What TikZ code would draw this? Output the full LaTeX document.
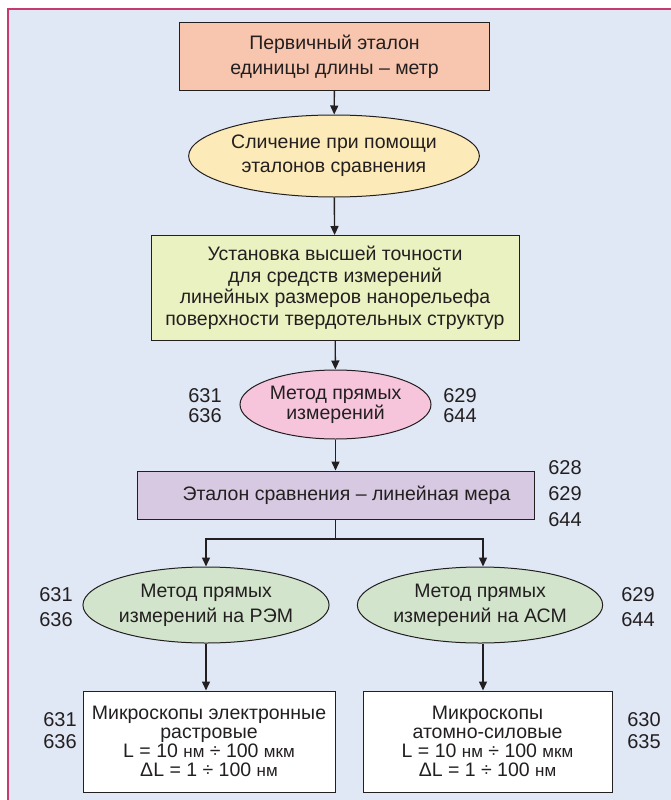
\documentclass[tikz,border=0pt]{standalone}
\usepackage{fontspec}
\setmainfont{Liberation Sans}
\usepackage{xcolor}
\usetikzlibrary{shapes.geometric,arrows.meta}

\definecolor{fonblue}{HTML}{E1E8F5}
\definecolor{ramka}{HTML}{C73A6F}
\definecolor{losos}{HTML}{F8C6AE}
\definecolor{zhelt}{HTML}{FCEBB8}
\definecolor{salat}{HTML}{EBF2C2}
\definecolor{rozov}{HTML}{F6C5DB}
\definecolor{siren}{HTML}{D6C9E1}
\definecolor{zelen}{HTML}{D3E4CC}
\definecolor{tekst}{HTML}{231F20}

\newcommand{\ed}[1]{{\fontsize{17}{19}\selectfont #1}}

\tikzset{
  blok/.style={draw=tekst, line width=1pt, align=center, inner sep=0pt, text=tekst,
    font=\fontsize{19.5}{21.5}\selectfont},
  oval/.style={blok, ellipse},
  nomer/.style={align=center, inner sep=0pt, text=tekst},
  strelka/.style={draw=tekst, line width=1.4pt, -{Triangle[length=9pt,width=8pt]}}
}

\begin{document}
\begin{tikzpicture}[x=1pt,y=-1pt]
\useasboundingbox (0,0) rectangle (671,800);
\fill[fonblue] (8,9) rectangle (671,800);
\draw[ramka, line width=1.3pt] (8,800)--(8,9)--(671,9);

\node[blok, fill=losos, minimum width=310pt, minimum height=67pt, font=\fontsize{19.5}{25}\selectfont] (etalon) at (334.5,56.5)
  {Первичный эталон\\ единицы длины – метр};
\node[oval, fill=zhelt, minimum width=278pt, minimum height=82pt, font=\fontsize{19.5}{24}\selectfont] (slichenie) at (334,156)
  {Сличение при помощи\\ эталонов сравнения};
\node[blok, fill=salat, minimum width=368pt, minimum height=105pt] (ustanovka) at (335,288)
  {Установка высшей точности\\ для средств измерений\\ линейных размеров нанорельефа\\ поверхности твердотельных структур};
\node[oval, fill=rozov, minimum width=191pt, minimum height=69pt, font=\fontsize{19.5}{20}\selectfont] (metod) at (335.5,404.5)
  {Метод прямых\\ измерений};
\node[blok, fill=siren, minimum width=397pt, minimum height=48pt] (mera) at (335.5,495)
  {\hspace*{22pt}Эталон сравнения – линейная мера};
\node[oval, fill=zelen, minimum width=246pt, minimum height=76pt, font=\fontsize{19.5}{25}\selectfont] (rem) at (206,605)
  {Метод прямых\\ измерений на РЭМ};
\node[oval, fill=zelen, minimum width=244pt, minimum height=76pt, font=\fontsize{19.5}{25}\selectfont] (asm) at (480,605)
  {Метод прямых\\ измерений на АСМ};
\node[blok, fill=white, minimum width=252pt, minimum height=101pt, font=\fontsize{19.5}{19}\selectfont] (mikr1) at (209,741.5)
  {Микроскопы электронные\\ растровые\\ L = 10 \ed{нм} ÷ 100 \ed{мкм}\\ ΔL = 1 ÷ 100 \ed{нм}};
\node[blok, fill=white, minimum width=249pt, minimum height=101pt, font=\fontsize{19.5}{19}\selectfont] (mikr2) at (487.5,741.5)
  {Микроскопы\\ атомно-силовые\\ L = 10 \ed{нм} ÷ 100 \ed{мкм}\\ ΔL = 1 ÷ 100 \ed{нм}};

% ссылки
\node[nomer, font=\fontsize{20}{20}\selectfont] (n1) at (205,406) {631\\636};
\node[nomer, font=\fontsize{20}{20}\selectfont] (n2) at (460,406) {629\\644};
\node[nomer, font=\fontsize{20}{26}\selectfont] (n3) at (565,494) {628\\629\\644};
\node[nomer, font=\fontsize{20}{25}\selectfont] (n4) at (56,607) {631\\636};
\node[nomer, font=\fontsize{20}{25}\selectfont] (n5) at (638,607) {629\\644};
\node[nomer, font=\fontsize{20}{22}\selectfont] (n6) at (60,731) {631\\636};
\node[nomer, font=\fontsize{20}{22}\selectfont] (n7) at (644,731) {630\\635};

\draw[strelka] (etalon) -- (slichenie);
\draw[strelka] (slichenie) -- (ustanovka);
\draw[strelka] (ustanovka) -- (metod);
\draw[strelka] (metod) -- (mera);
\coordinate (razv) at (335.5,539);
\draw[draw=tekst, line width=1.4pt] (mera.south) -- (razv);
\draw[strelka] (razv) -| (rem.north);
\draw[strelka] (razv) -| ([xshift=3pt]asm.north);
\draw[strelka] (rem.south) -- (rem.south |- mikr1.north);
\draw[strelka] ([xshift=3pt]asm.south) -- ([xshift=3pt]asm.south |- mikr2.north);
\end{tikzpicture}
\end{document}
